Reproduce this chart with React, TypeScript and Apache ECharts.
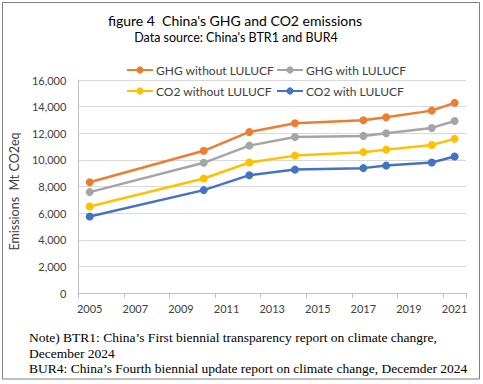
import React, { useEffect, useRef } from "react";
import * as echarts from "echarts";

const years = ["2005","2006","2007","2008","2009","2010","2011","2012","2013","2014","2015","2016","2017","2018","2019","2020","2021"];
const dataYears = ["2005","2010","2012","2014","2017","2018","2020","2021"];
const ghgWithout = [8320, 10680, 12100, 12750, 12980, 13200, 13700, 14280];
const ghgWith = [7580, 9780, 11070, 11720, 11800, 12000, 12400, 12920];
const co2Without = [6500, 8600, 9800, 10320, 10580, 10770, 11120, 11580];
const co2With = [5750, 7730, 8850, 9270, 9380, 9570, 9800, 10250];
const seriesNames = ["GHG without LULUCF", "GHG with LULUCF", "CO2 without LULUCF", "CO2 with LULUCF"];
const seriesColors = ["#ED7D31", "#A5A5A5", "#FFC000", "#4472C4"];
const titleText = "figure 4  China's GHG and CO2 emissions";
const subtitleText = "Data source: China's BTR1 and BUR4";
const yAxisName = "Emissions  Mt CO2eq";
const noteLines = [
  "Note) BTR1: China\u2019s First biennial transparency report on climate changre,",
  "December 2024",
  "BUR4: China\u2019s Fourth biennial update report on climate change, Decemder 2024",
];

const FONT = "Lato";

function expand(values: number[]): (number | null)[] {
  return years.map((y) => {
    const i = dataYears.indexOf(y);
    return i >= 0 ? values[i] : null;
  });
}

export default function App() {
  const ref = useRef<HTMLDivElement>(null);
  useEffect(() => {
    document.body.style.margin = "0";
    const chart = echarts.init(ref.current!, null, { renderer: "svg" });
    const allValues = [ghgWithout, ghgWith, co2Without, co2With];
    const legendPos = [
      { left: 126, top: 64 },
      { left: 276, top: 64 },
      { left: 126, top: 85 },
      { left: 276, top: 85 },
    ];
    chart.setOption({
      animation: false,
      backgroundColor: "#ffffff",
      textStyle: { fontFamily: FONT },
      grid: { left: 73, right: 17, top: 80, bottom: 91, containLabel: false },
      legend: seriesNames.map((n, i) => ({
        data: [n],
        left: legendPos[i].left,
        top: legendPos[i].top,
        itemWidth: 26,
        itemHeight: 9,
        itemGap: 0,
        padding: 0,
        textStyle: { fontFamily: FONT, fontSize: 12, color: "#404040", padding: [0, 0, 0, -2] },
      })),
      xAxis: {
        type: "category",
        data: years,
        boundaryGap: true,
        axisLine: { show: true, lineStyle: { color: "#BFBFBF", width: 1 } },
        axisTick: { show: true, interval: 1, alignWithLabel: false, length: 5, lineStyle: { color: "#BFBFBF" } },
        axisLabel: { interval: 1, color: "#404040", fontSize: 11, fontFamily: FONT, margin: 10 },
        splitLine: { show: false },
      },
      yAxis: {
        type: "value",
        min: 0,
        max: 16000,
        interval: 2000,
        name: yAxisName,
        nameLocation: "middle",
        nameRotate: 90,
        nameGap: 53,
        nameTextStyle: { fontFamily: FONT, fontSize: 12.5, color: "#404040", padding: [0, 10, 0, 0] },
        axisLine: { show: true, lineStyle: { color: "#BFBFBF", width: 1 } },
        axisTick: { show: false },
        axisLabel: {
          color: "#404040",
          fontSize: 11,
          fontFamily: FONT,
          margin: 12,
          formatter: (v: number) => v.toLocaleString("en-US"),
        },
        splitLine: { show: true, lineStyle: { color: "#D9D9D9", width: 1 } },
      },
      series: allValues.map((vals, i) => ({
        name: seriesNames[i],
        type: "line",
        data: expand(vals),
        connectNulls: true,
        symbol: "circle",
        symbolSize: 8,
        itemStyle: { color: seriesColors[i] },
        lineStyle: { color: seriesColors[i], width: 2.5 },
        z: 10 - i,
      })),
      graphic: [
        {
          type: "rect",
          shape: { x: 2.5, y: 2.5, width: 477, height: 376.5 },
          style: { fill: "none", stroke: "#808080", lineWidth: 1 },
          silent: true,
        },
        {
          type: "text",
          x: 235,
          y: 20,
          style: { text: titleText, fontFamily: FONT, fontSize: 14, fill: "#000", textAlign: "center", textVerticalAlign: "middle" },
        },
        {
          type: "text",
          x: 236,
          y: 37,
          style: { text: subtitleText, fontFamily: FONT, fontSize: 12.5, fill: "#000", textAlign: "center", textVerticalAlign: "middle" },
        },
        ...noteLines.map((t, i) => ({
          type: "text",
          x: 29,
          y: [337, 353, 368][i],
          style: { text: t, fontFamily: "Liberation Serif", fontSize: 13.5, fill: "#000", textAlign: "left", textVerticalAlign: "middle" },
        })),
      ],
    });
    return () => chart.dispose();
  }, []);
  return <div ref={ref} style={{ width: 483, height: 384 }} />;
}
